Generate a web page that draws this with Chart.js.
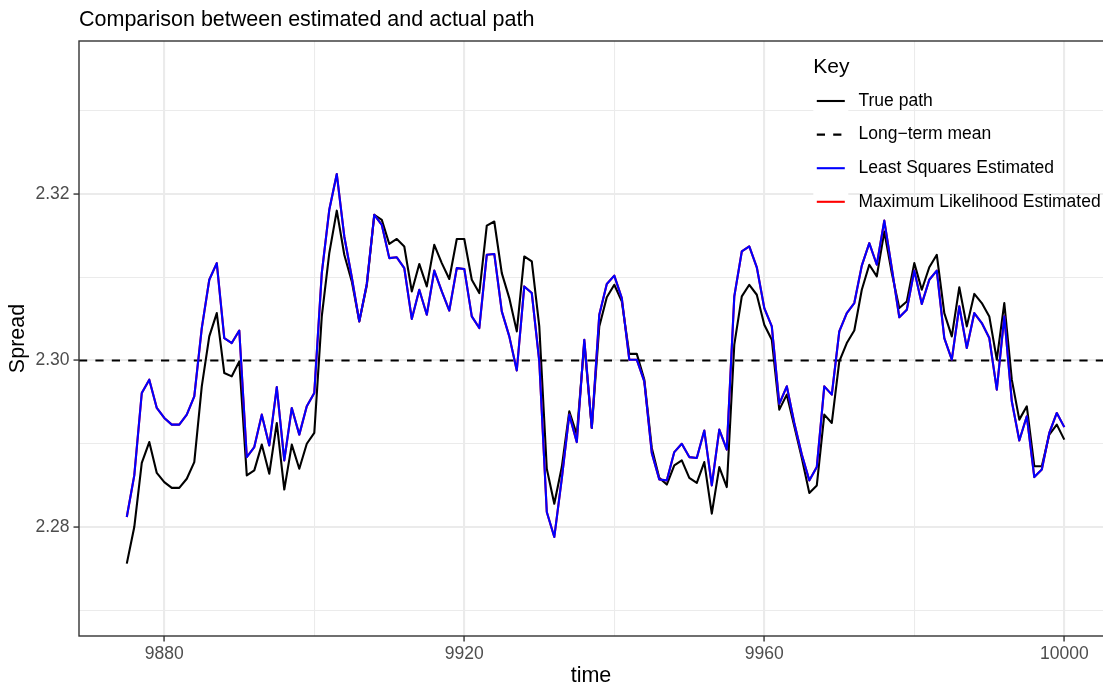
<!DOCTYPE html>
<html>
<head>
<meta charset="utf-8">
<title>Comparison between estimated and actual path</title>
<script src="https://cdn.jsdelivr.net/npm/chart.js@4.4.1/dist/chart.umd.min.js"></script>
<style>
  html, body { margin: 0; padding: 0; background: #ffffff; overflow: hidden; }
  canvas { display: block; }
</style>
</head>
<body>
<canvas id="chart" width="1103" height="687"></canvas>
<script>
// ---- data -------------------------------------------------------------
const time = [
  9875, 9876, 9877, 9878, 9879, 9880, 9881, 9882, 9883, 9884,
  9885, 9886, 9887, 9888, 9889, 9890, 9891, 9892, 9893, 9894,
  9895, 9896, 9897, 9898, 9899, 9900, 9901, 9902, 9903, 9904,
  9905, 9906, 9907, 9908, 9909, 9910, 9911, 9912, 9913, 9914,
  9915, 9916, 9917, 9918, 9919, 9920, 9921, 9922, 9923, 9924,
  9925, 9926, 9927, 9928, 9929, 9930, 9931, 9932, 9933, 9934,
  9935, 9936, 9937, 9938, 9939, 9940, 9941, 9942, 9943, 9944,
  9945, 9946, 9947, 9948, 9949, 9950, 9951, 9952, 9953, 9954,
  9955, 9956, 9957, 9958, 9959, 9960, 9961, 9962, 9963, 9964,
  9965, 9966, 9967, 9968, 9969, 9970, 9971, 9972, 9973, 9974,
  9975, 9976, 9977, 9978, 9979, 9980, 9981, 9982, 9983, 9984,
  9985, 9986, 9987, 9988, 9989, 9990, 9991, 9992, 9993, 9994,
  9995, 9996, 9997, 9998, 9999, 10000
];

const truePath = [
  2.2756, 2.2800, 2.2877, 2.2902, 2.2865, 2.2854, 2.2847, 2.2847, 2.2858, 2.2878,
  2.2969, 2.3029, 2.3057, 2.2985, 2.2981, 2.2999, 2.2862, 2.2868, 2.2899, 2.2864,
  2.2925, 2.2845, 2.2899, 2.2870, 2.2900, 2.2913, 2.3053, 2.3129, 2.3180, 2.3127,
  2.3095, 2.3047, 2.3090, 2.3175, 2.3169, 2.3140, 2.3146, 2.3137, 2.3083, 2.3116,
  2.3089, 2.3139, 2.3117, 2.3098, 2.3146, 2.3146, 2.3097, 2.3081, 2.3162, 2.3167,
  2.3105, 2.3075, 2.3035, 2.3125, 2.3119, 2.3041, 2.2870, 2.2828, 2.2872, 2.2939,
  2.2911, 2.3021, 2.2919, 2.3041, 2.3076, 2.3091, 2.3071, 2.3008, 2.3008, 2.2977,
  2.2895, 2.2859, 2.2851, 2.2874, 2.2880, 2.2859, 2.2853, 2.2878, 2.2816, 2.2872,
  2.2848, 2.3019, 2.3077, 2.3091, 2.3079, 2.3043, 2.3025, 2.2941, 2.2959, 2.2921,
  2.2883, 2.2841, 2.2850, 2.2935, 2.2925, 2.2999, 2.3021, 2.3036, 2.3085, 2.3115,
  2.3101, 2.3155, 2.3105, 2.3063, 2.3071, 2.3117, 2.3085, 2.3112, 2.3127, 2.3057,
  2.3029, 2.3088, 2.3041, 2.3080, 2.3069, 2.3053, 2.3001, 2.3069, 2.2977, 2.2929,
  2.2945, 2.2873, 2.2873, 2.2911, 2.2923, 2.2905
];

const lsEstimated = [
  2.2812, 2.2862, 2.2961, 2.2977, 2.2943, 2.2931, 2.2923, 2.2923, 2.2935, 2.2957,
  2.3039, 2.3097, 2.3117, 2.3027, 2.3021, 2.3036, 2.2884, 2.2896, 2.2935, 2.2898,
  2.2968, 2.2880, 2.2943, 2.2911, 2.2945, 2.2961, 2.3105, 2.3181, 2.3224, 2.3149,
  2.3100, 2.3047, 2.3092, 2.3175, 2.3163, 2.3123, 2.3124, 2.3111, 2.3050, 2.3085,
  2.3055, 2.3108, 2.3083, 2.3060, 2.3111, 2.3110, 2.3053, 2.3039, 2.3127, 2.3128,
  2.3059, 2.3029, 2.2988, 2.3089, 2.3081, 2.2999, 2.2818, 2.2788, 2.2858, 2.2935,
  2.2902, 2.3025, 2.2919, 2.3055, 2.3092, 2.3102, 2.3075, 2.3001, 2.3001, 2.2975,
  2.2889, 2.2857, 2.2856, 2.2890, 2.2900, 2.2884, 2.2883, 2.2916, 2.2850, 2.2917,
  2.2893, 2.3077, 2.3131, 2.3137, 2.3112, 2.3063, 2.3041, 2.2948, 2.2969, 2.2925,
  2.2887, 2.2856, 2.2872, 2.2969, 2.2959, 2.3035, 2.3057, 2.3069, 2.3114, 2.3141,
  2.3115, 2.3168, 2.3111, 2.3052, 2.3061, 2.3108, 2.3068, 2.3097, 2.3108, 2.3027,
  2.3001, 2.3065, 2.3015, 2.3057, 2.3045, 2.3027, 2.2965, 2.3053, 2.2951, 2.2904,
  2.2933, 2.2860, 2.2869, 2.2913, 2.2937, 2.2920
];

const mlEstimated = [
  2.2812, 2.2862, 2.2961, 2.2977, 2.2943, 2.2931, 2.2923, 2.2923, 2.2935, 2.2957,
  2.3039, 2.3097, 2.3117, 2.3027, 2.3021, 2.3036, 2.2884, 2.2896, 2.2935, 2.2898,
  2.2968, 2.2880, 2.2943, 2.2911, 2.2945, 2.2961, 2.3105, 2.3181, 2.3224, 2.3149,
  2.3100, 2.3047, 2.3092, 2.3175, 2.3163, 2.3123, 2.3124, 2.3111, 2.3050, 2.3085,
  2.3055, 2.3108, 2.3083, 2.3060, 2.3111, 2.3110, 2.3053, 2.3039, 2.3127, 2.3128,
  2.3059, 2.3029, 2.2988, 2.3089, 2.3081, 2.2999, 2.2818, 2.2788, 2.2858, 2.2935,
  2.2902, 2.3025, 2.2919, 2.3055, 2.3092, 2.3102, 2.3075, 2.3001, 2.3001, 2.2975,
  2.2889, 2.2857, 2.2856, 2.2890, 2.2900, 2.2884, 2.2883, 2.2916, 2.2850, 2.2917,
  2.2893, 2.3077, 2.3131, 2.3137, 2.3112, 2.3063, 2.3041, 2.2948, 2.2969, 2.2925,
  2.2887, 2.2856, 2.2872, 2.2969, 2.2959, 2.3035, 2.3057, 2.3069, 2.3114, 2.3141,
  2.3115, 2.3168, 2.3111, 2.3052, 2.3061, 2.3108, 2.3068, 2.3097, 2.3108, 2.3027,
  2.3001, 2.3065, 2.3015, 2.3057, 2.3045, 2.3027, 2.2965, 2.3053, 2.2951, 2.2904,
  2.2933, 2.2860, 2.2869, 2.2913, 2.2937, 2.2920
];

const longTermMean = 2.30;

const yMajorTicks = [2.28, 2.30, 2.32];
const yMinorTicks = [2.27, 2.29, 2.31, 2.33];
const xMajorTicks = [9880, 9920, 9960, 10000];
const xMinorTicks = [9900, 9940, 9980];

// visible axis ranges
const xLimits = [9868.63, 10005.16];
const yLimits = [2.26691, 2.33838];

// ---- styling ----------------------------------------------------------
const FONT = "'Liberation Sans', Arial, Helvetica, sans-serif";
const GRID = '#ebebeb';
const AXIS_DARK = '#333333';
const AXIS_TEXT = '#4d4d4d';
const LINE_W = 2.1;
const DASH = [8.2, 8.2];

const toPoints = (ys) => ys.map((y, i) => ({ x: time[i], y: y }));

function tickList(major, minor) {
  return major.map(v => ({ value: v, minor: false }))
    .concat(minor.map(v => ({ value: v, minor: true })))
    .sort((a, b) => a.value - b.value);
}

const isMinor = (ctx) => !!(ctx.tick && ctx.tick.minor);

const gridStyle = {
  color: GRID,
  lineWidth: (ctx) => isMinor(ctx) ? 1.05 : 2.1,
  drawOnChartArea: true,
  drawTicks: true,
  tickLength: 5.5,
  tickColor: (ctx) => isMinor(ctx) ? 'rgba(0,0,0,0)' : AXIS_DARK,
  tickWidth: 1.4
};

// title, panel border and key drawn in ggplot style
const ggDecor = {
  id: 'ggDecor',
  beforeDraw(chart) {
    const { ctx, width, height } = chart;
    ctx.save();
    ctx.fillStyle = '#ffffff';
    ctx.fillRect(0, 0, width, height);
    ctx.restore();
  },
  afterDraw(chart, args, opts) {
    const { ctx, chartArea } = chart;
    ctx.save();

    // panel border (panel continues past the right edge)
    ctx.strokeStyle = AXIS_DARK;
    ctx.lineWidth = 1.4;
    ctx.strokeRect(chartArea.left, chartArea.top,
                   chartArea.right - chartArea.left + 20,
                   chartArea.bottom - chartArea.top);

    // plot title
    ctx.fillStyle = '#000000';
    ctx.font = opts.titleSize + 'px ' + FONT;
    ctx.textAlign = 'left';
    ctx.textBaseline = 'alphabetic';
    ctx.fillText(opts.title, 79, opts.titleBaseline);

    // key
    const k = opts.key;
    ctx.font = k.titleSize + 'px ' + FONT;
    ctx.fillText(k.title, k.x, k.titleBaseline);

    ctx.font = k.textSize + 'px ' + FONT;
    ctx.textBaseline = 'middle';
    k.order.forEach((dsIndex, row) => {
      const ds = chart.data.datasets[dsIndex];
      const cy = k.firstRow + row * k.rowGap;
      ctx.fillStyle = '#ffffff';
      ctx.fillRect(k.x, cy - k.boxH / 2, k.boxW, k.boxH);
      ctx.beginPath();
      ctx.strokeStyle = ds.borderColor;
      ctx.lineWidth = ds.borderWidth;
      ctx.setLineDash(ds.borderDash || []);
      ctx.lineCap = 'butt';
      ctx.moveTo(k.x + k.boxW * 0.1, cy);
      ctx.lineTo(k.x + k.boxW * 0.9, cy);
      ctx.stroke();
      ctx.setLineDash([]);
      ctx.fillStyle = '#000000';
      ctx.fillText(ds.label, k.textX, cy);
    });

    ctx.restore();
  }
};

const datasets = [
  {
    label: 'True path',
    data: toPoints(truePath),
    borderColor: '#000000',
    borderWidth: LINE_W,
    order: 4
  },
  {
    label: 'Long\u2212term mean',
    data: [{ x: xLimits[0], y: longTermMean }, { x: xLimits[1], y: longTermMean }],
    borderColor: '#000000',
    borderWidth: LINE_W,
    borderDash: DASH,
    order: 3
  },
  {
    label: 'Least Squares Estimated',
    data: toPoints(lsEstimated),
    borderColor: '#0000ff',
    borderWidth: LINE_W,
    order: 1
  },
  {
    label: 'Maximum Likelihood Estimated',
    data: toPoints(mlEstimated),
    borderColor: '#ff0000',
    borderWidth: LINE_W,
    order: 2
  }
].map(d => Object.assign({
  fill: false,
  pointRadius: 0,
  pointHoverRadius: 0,
  tension: 0,
  borderJoinStyle: 'round',
  borderCapStyle: 'butt'
}, d));

new Chart(document.getElementById('chart'), {
  type: 'line',
  data: { datasets: datasets },
  plugins: [ggDecor],
  options: {
    responsive: false,
    animation: false,
    devicePixelRatio: 1,
    layout: { padding: { top: 41, left: 0, right: 0, bottom: 0 } },
    plugins: {
      legend: { display: false },
      title: { display: false },
      tooltip: { enabled: false },
      ggDecor: {
        title: 'Comparison between estimated and actual path',
        titleSize: 21.5,
        titleBaseline: 26,
        key: {
          title: 'Key',
          titleSize: 21,
          titleBaseline: 73,
          textSize: 17.5,
          x: 813.3,
          textX: 858.5,
          firstRow: 101,
          rowGap: 33.6,
          boxW: 35,
          boxH: 34.6,
          order: [0, 1, 2, 3]
        }
      }
    },
    scales: {
      x: {
        type: 'linear',
        min: xLimits[0],
        max: xLimits[1],
        afterFit: (scale) => { scale.height = 51; },
        afterBuildTicks: (scale) => { scale.ticks = tickList(xMajorTicks, xMinorTicks); },
        grid: gridStyle,
        border: { display: false },
        ticks: {
          autoSkip: false,
          maxRotation: 0,
          padding: 2.5,
          color: AXIS_TEXT,
          font: { family: FONT, size: 17.5, lineHeight: 1.2 },
          callback: (value, index, ticks) => ticks[index].minor ? '' : String(value)
        },
        title: {
          display: true,
          text: 'time',
          color: '#000000',
          font: { family: FONT, size: 21.5, lineHeight: 1 },
          padding: { top: 0, bottom: 0 }
        }
      },
      y: {
        type: 'linear',
        min: yLimits[0],
        max: yLimits[1],
        afterFit: (scale) => { scale.width = 79; },
        afterBuildTicks: (scale) => { scale.ticks = tickList(yMajorTicks, yMinorTicks); },
        grid: gridStyle,
        border: { display: false },
        ticks: {
          autoSkip: false,
          padding: 4,
          color: AXIS_TEXT,
          font: { family: FONT, size: 17.5, lineHeight: 1.2 },
          callback: (value, index, ticks) => ticks[index].minor ? '' : value.toFixed(2)
        },
        title: {
          display: true,
          text: 'Spread',
          color: '#000000',
          font: { family: FONT, size: 21.5, lineHeight: 1 },
          padding: { top: 7, bottom: 0 }
        }
      }
    }
  }
});
</script>
</body>
</html>
